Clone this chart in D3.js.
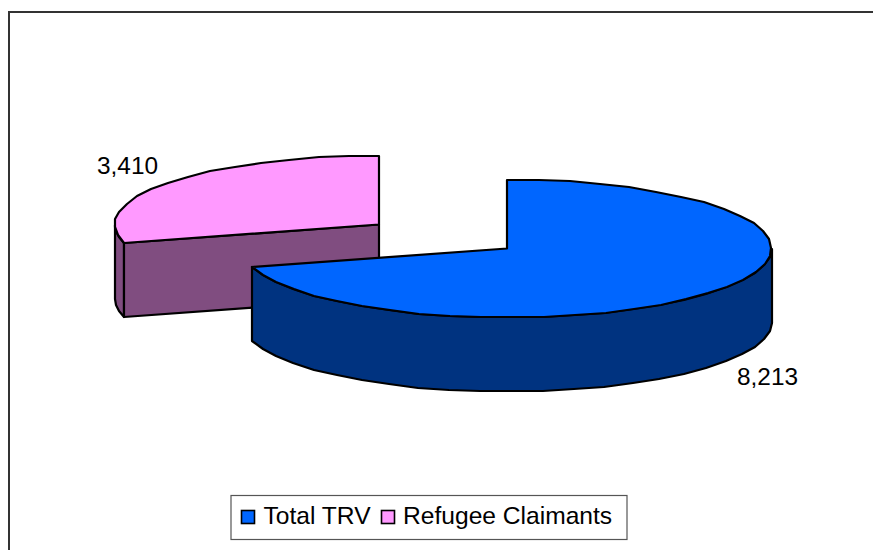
<!DOCTYPE html>
<html><head><meta charset="utf-8">
<script src="https://cdn.jsdelivr.net/npm/d3@7/dist/d3.min.js"></script>
<style>html,body{margin:0;padding:0;background:#fff}svg{display:block}text{font-family:"Liberation Sans",Arial,sans-serif;fill:#000}</style>
</head><body><svg id="c" width="873" height="550"></svg>
<script>
const categories = ["Total TRV", "Refugee Claimants"];
const seriesValues = [8213, 3410];
const valueLabels = ["8,213", "3,410"];
const topColors = ["#0066ff", "#ff99ff"];
const wallColors = ["#003380", "#804d80"];

const W = 873, H = 550;
const svg = d3.select("#c");
svg.append("rect").attr("x",9).attr("y",12).attr("width",W+10).attr("height",H+10)
  .attr("fill","#fff").attr("stroke","#333").attr("stroke-width",2);

const rx = 264.5, ry = 69, depth = 74;
const centers = [[507,248.5],[379,224.5]];
const arcs = d3.pie().sort(null)(seriesValues);
const STEP = Math.PI/26;
const pt = (c,a,dy=0)=>[Math.round(c[0]+rx*Math.sin(a)), Math.round(c[1]-ry*Math.cos(a)+dy)];
const line = d3.line();
// faceted outline, like the low-resolution polyline of the reference
const sample = (a0,a1)=>{
  const n = Math.max(2,Math.ceil((a1-a0)/STEP));
  return d3.range(0,n+1).map(i=>a0+(a1-a0)*i/n);
};
const style = (s,fill)=>s.attr("fill",fill).attr("stroke","#000").attr("stroke-width",2.2).attr("stroke-linejoin","round");
const rim = (c,a0,a1)=>{
  const angs = sample(a0,a1);
  return line([...angs.map(a=>pt(c,a)), ...angs.slice().reverse().map(a=>pt(c,a,depth))])+"Z";
};
const topFace = (c,a)=>line([c,...sample(a.startAngle,a.endAngle).map(t=>pt(c,t))])+"Z";
const HALF = Math.PI/2, PI = Math.PI;

// refugee slice (behind)
{
  const a = arcs[1], c = centers[1], g = svg.append("g");
  const e = pt(c,a.startAngle), e2 = [e[0],e[1]+depth];
  style(g.append("path").attr("d",rim(c,a.startAngle,1.5*PI)),wallColors[1]);
  style(g.append("path").attr("d",line([c,e,e2,[c[0],c[1]+depth]])+"Z"),wallColors[1]);
  style(g.append("path").attr("d",topFace(c,a)),topColors[1]);
}
// total TRV slice (front)
{
  const a = arcs[0], c = centers[0], g = svg.append("g");
  style(g.append("path").attr("d",rim(c,HALF,a.endAngle)),wallColors[0]);
  style(g.append("path").attr("d",topFace(c,a)),topColors[0]);
}
// value labels
svg.append("text").attr("x",767.5).attr("y",384.5).attr("text-anchor","middle").attr("font-size",24.4).text(valueLabels[0]);
svg.append("text").attr("x",127.5).attr("y",174).attr("text-anchor","middle").attr("font-size",24.4).text(valueLabels[1]);

// legend
const lg = svg.append("g");
lg.append("rect").attr("x",231).attr("y",495.5).attr("width",396).attr("height",44)
  .attr("fill","#fff").attr("stroke","#555").attr("stroke-width",1.2);
const legendSwatchX = d3.scaleOrdinal().domain(categories).range([241.5,381.5]);
const legendTextX = d3.scaleOrdinal().domain(categories).range([263.5,403]);
categories.forEach((name,i)=>{
  lg.append("rect").attr("x",legendSwatchX(name)).attr("y",510.5).attr("width",13).attr("height",13)
    .attr("fill",topColors[i]).attr("stroke","#000").attr("stroke-width",1.6);
  lg.append("text").attr("x",legendTextX(name)).attr("y",523.5).attr("font-size",24.6).text(name);
});
</script></body></html>
